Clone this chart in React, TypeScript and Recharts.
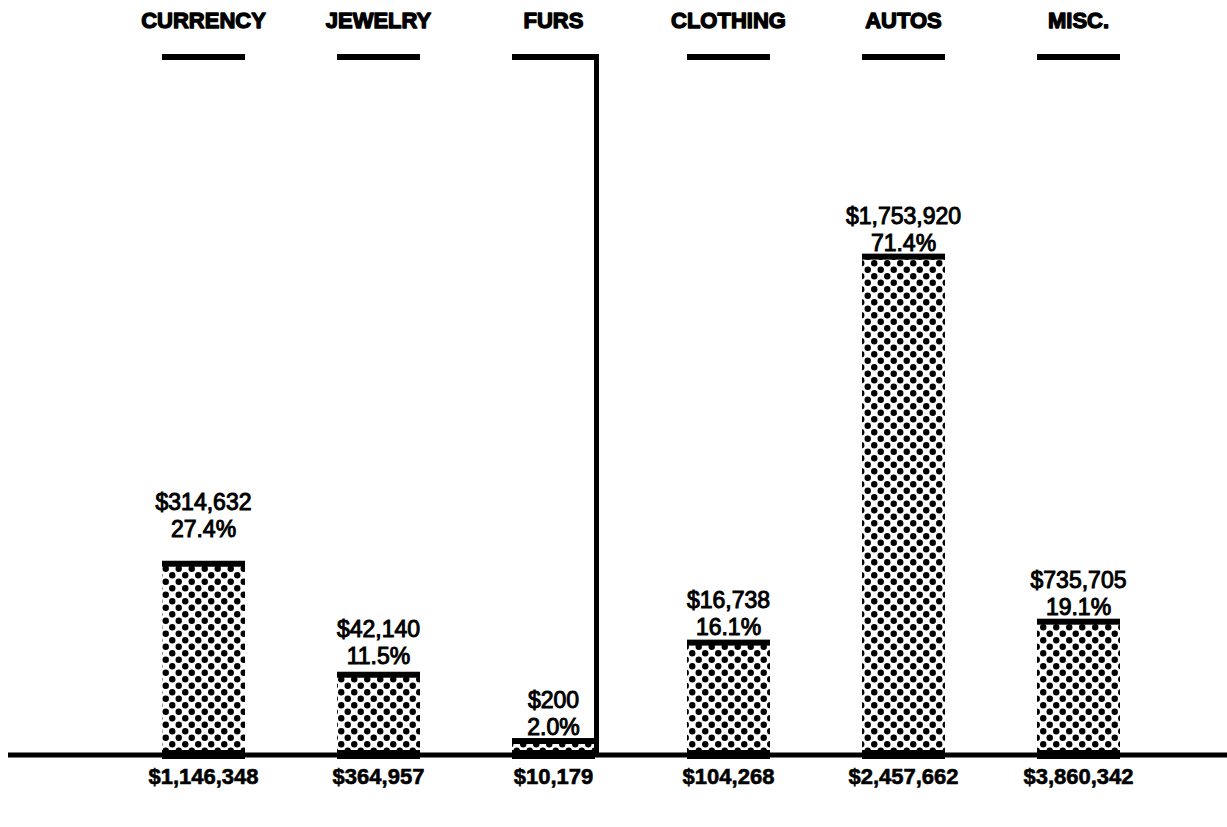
import React from 'react';
import { ComposedChart, Bar, XAxis, YAxis, LabelList } from 'recharts';

// values
const CATEGORIES = ['CURRENCY', 'JEWELRY', 'FURS', 'CLOTHING', 'AUTOS', 'MISC.'];
const STOLEN = [1146348, 364957, 10179, 104268, 2457662, 3860342];
const RECOVERED = [314632, 42140, 200, 16738, 1753920, 735705];
const RECOVERED_PCT = [27.4, 11.5, 2.0, 16.1, 71.4, 19.1];

// categories drawn with a full outline up to the 100% mark
const OUTLINED = ['FURS'];
// gap between the percent label and the bar top (hand placed in the original)
const LABEL_LIFT: Record<string, number> = { CURRENCY: 27, JEWELRY: 11, CLOTHING: 8, MISC: 7 };

const FONT = '"Liberation Sans", Arial, Helvetica, sans-serif';

const data = CATEGORIES.map((name, i) => ({
  name,
  pct: RECOVERED_PCT[i],
  rest: 100 - RECOVERED_PCT[i],
}));

const money = (v: number) => '$' + v.toLocaleString('en-US');

const TopTick = (props: any) => {
  const { x, payload } = props;
  return (
    <text x={x} y={28} textAnchor="middle" fontFamily={FONT} fontSize={22} fontWeight="bold"
      fill="#000" stroke="#000" strokeWidth={1.3} strokeLinejoin="round">
      {payload.value}
    </text>
  );
};

const BottomTick = (props: any) => {
  const { x, payload } = props;
  return (
    <text x={x} y={784} textAnchor="middle" fontFamily={FONT} fontSize={22} fontWeight="bold"
      fill="#000" stroke="#000" strokeWidth={0.6}>
      {money(STOLEN[payload.index])}
    </text>
  );
};

const PctShape = (props: any) => {
  const { x, y, width, height, payload } = props;
  const outlined = OUTLINED.includes(payload.name);
  return (
    <g>
      <rect x={x} y={y} width={width} height={height} fill="url(#dots)" />
      <rect x={x} y={y - 3} width={width} height={6} fill="#000" />
      <rect x={x} y={y + height - 5} width={width} height={9} fill="#000" />
      {outlined && <rect x={x + width - 1} y={y} width={5} height={height} fill="#000" />}
    </g>
  );
};

const RestShape = (props: any) => {
  const { x, y, width, height, payload } = props;
  const outlined = OUTLINED.includes(payload.name);
  return (
    <g>
      <rect x={x} y={y - 3} width={width + (outlined ? 4 : 0)} height={6} fill="#000" />
      {outlined && <rect x={x + width - 1} y={y} width={5} height={height} fill="#000" />}
    </g>
  );
};

const BarLabel = (props: any) => {
  const { x, y, width, index } = props;
  const key = CATEGORIES[index].replace('.', '');
  const lift = LABEL_LIFT[key] ?? 6;
  const cx = x + width / 2;
  const base = y - lift;
  return (
    <g fontFamily={FONT} fontSize={23} fill="#000" stroke="#000" strokeWidth={1} textAnchor="middle">
      <text x={cx} y={base - 27}>{money(RECOVERED[index])}</text>
      <text x={cx} y={base}>{RECOVERED_PCT[index].toFixed(1)}%</text>
    </g>
  );
};

export default function App() {
  return (
    <div style={{ position: 'absolute', left: 0, top: 0, width: 1227, height: 827, background: '#fff' }}>
      <svg width={0} height={0} style={{ position: 'absolute' }}>
        <defs>
          <pattern id="dots" patternUnits="userSpaceOnUse" width={13} height={13}>
            <rect width={13} height={13} fill="#fff" />
            <circle cx={3.25} cy={3.25} r={3.2} fill="#000" />
            <circle cx={9.75} cy={9.75} r={3.2} fill="#000" />
          </pattern>
        </defs>
      </svg>
      <ComposedChart width={1227} height={827} data={data} margin={{ top: 0, right: 0, bottom: 0, left: 8 }}>
        <XAxis xAxisId="top" orientation="top" dataKey="name" height={57} padding={{ left: 108, right: 61 }}
          axisLine={false} tickLine={false} tick={TopTick} interval={0} />
        <XAxis xAxisId="bottom" dataKey="name" height={72} padding={{ left: 108, right: 61 }}
          axisLine={{ stroke: '#000', strokeWidth: 5 }} tickLine={false} tick={BottomTick} interval={0} />
        <YAxis hide domain={[0, 100]} />
        <Bar xAxisId="bottom" dataKey="pct" stackId="a" barSize={83} shape={PctShape} isAnimationActive={false}>
          <LabelList dataKey="pct" content={BarLabel} />
        </Bar>
        <Bar xAxisId="bottom" dataKey="rest" stackId="a" barSize={83} shape={RestShape} isAnimationActive={false} />
      </ComposedChart>
    </div>
  );
}
